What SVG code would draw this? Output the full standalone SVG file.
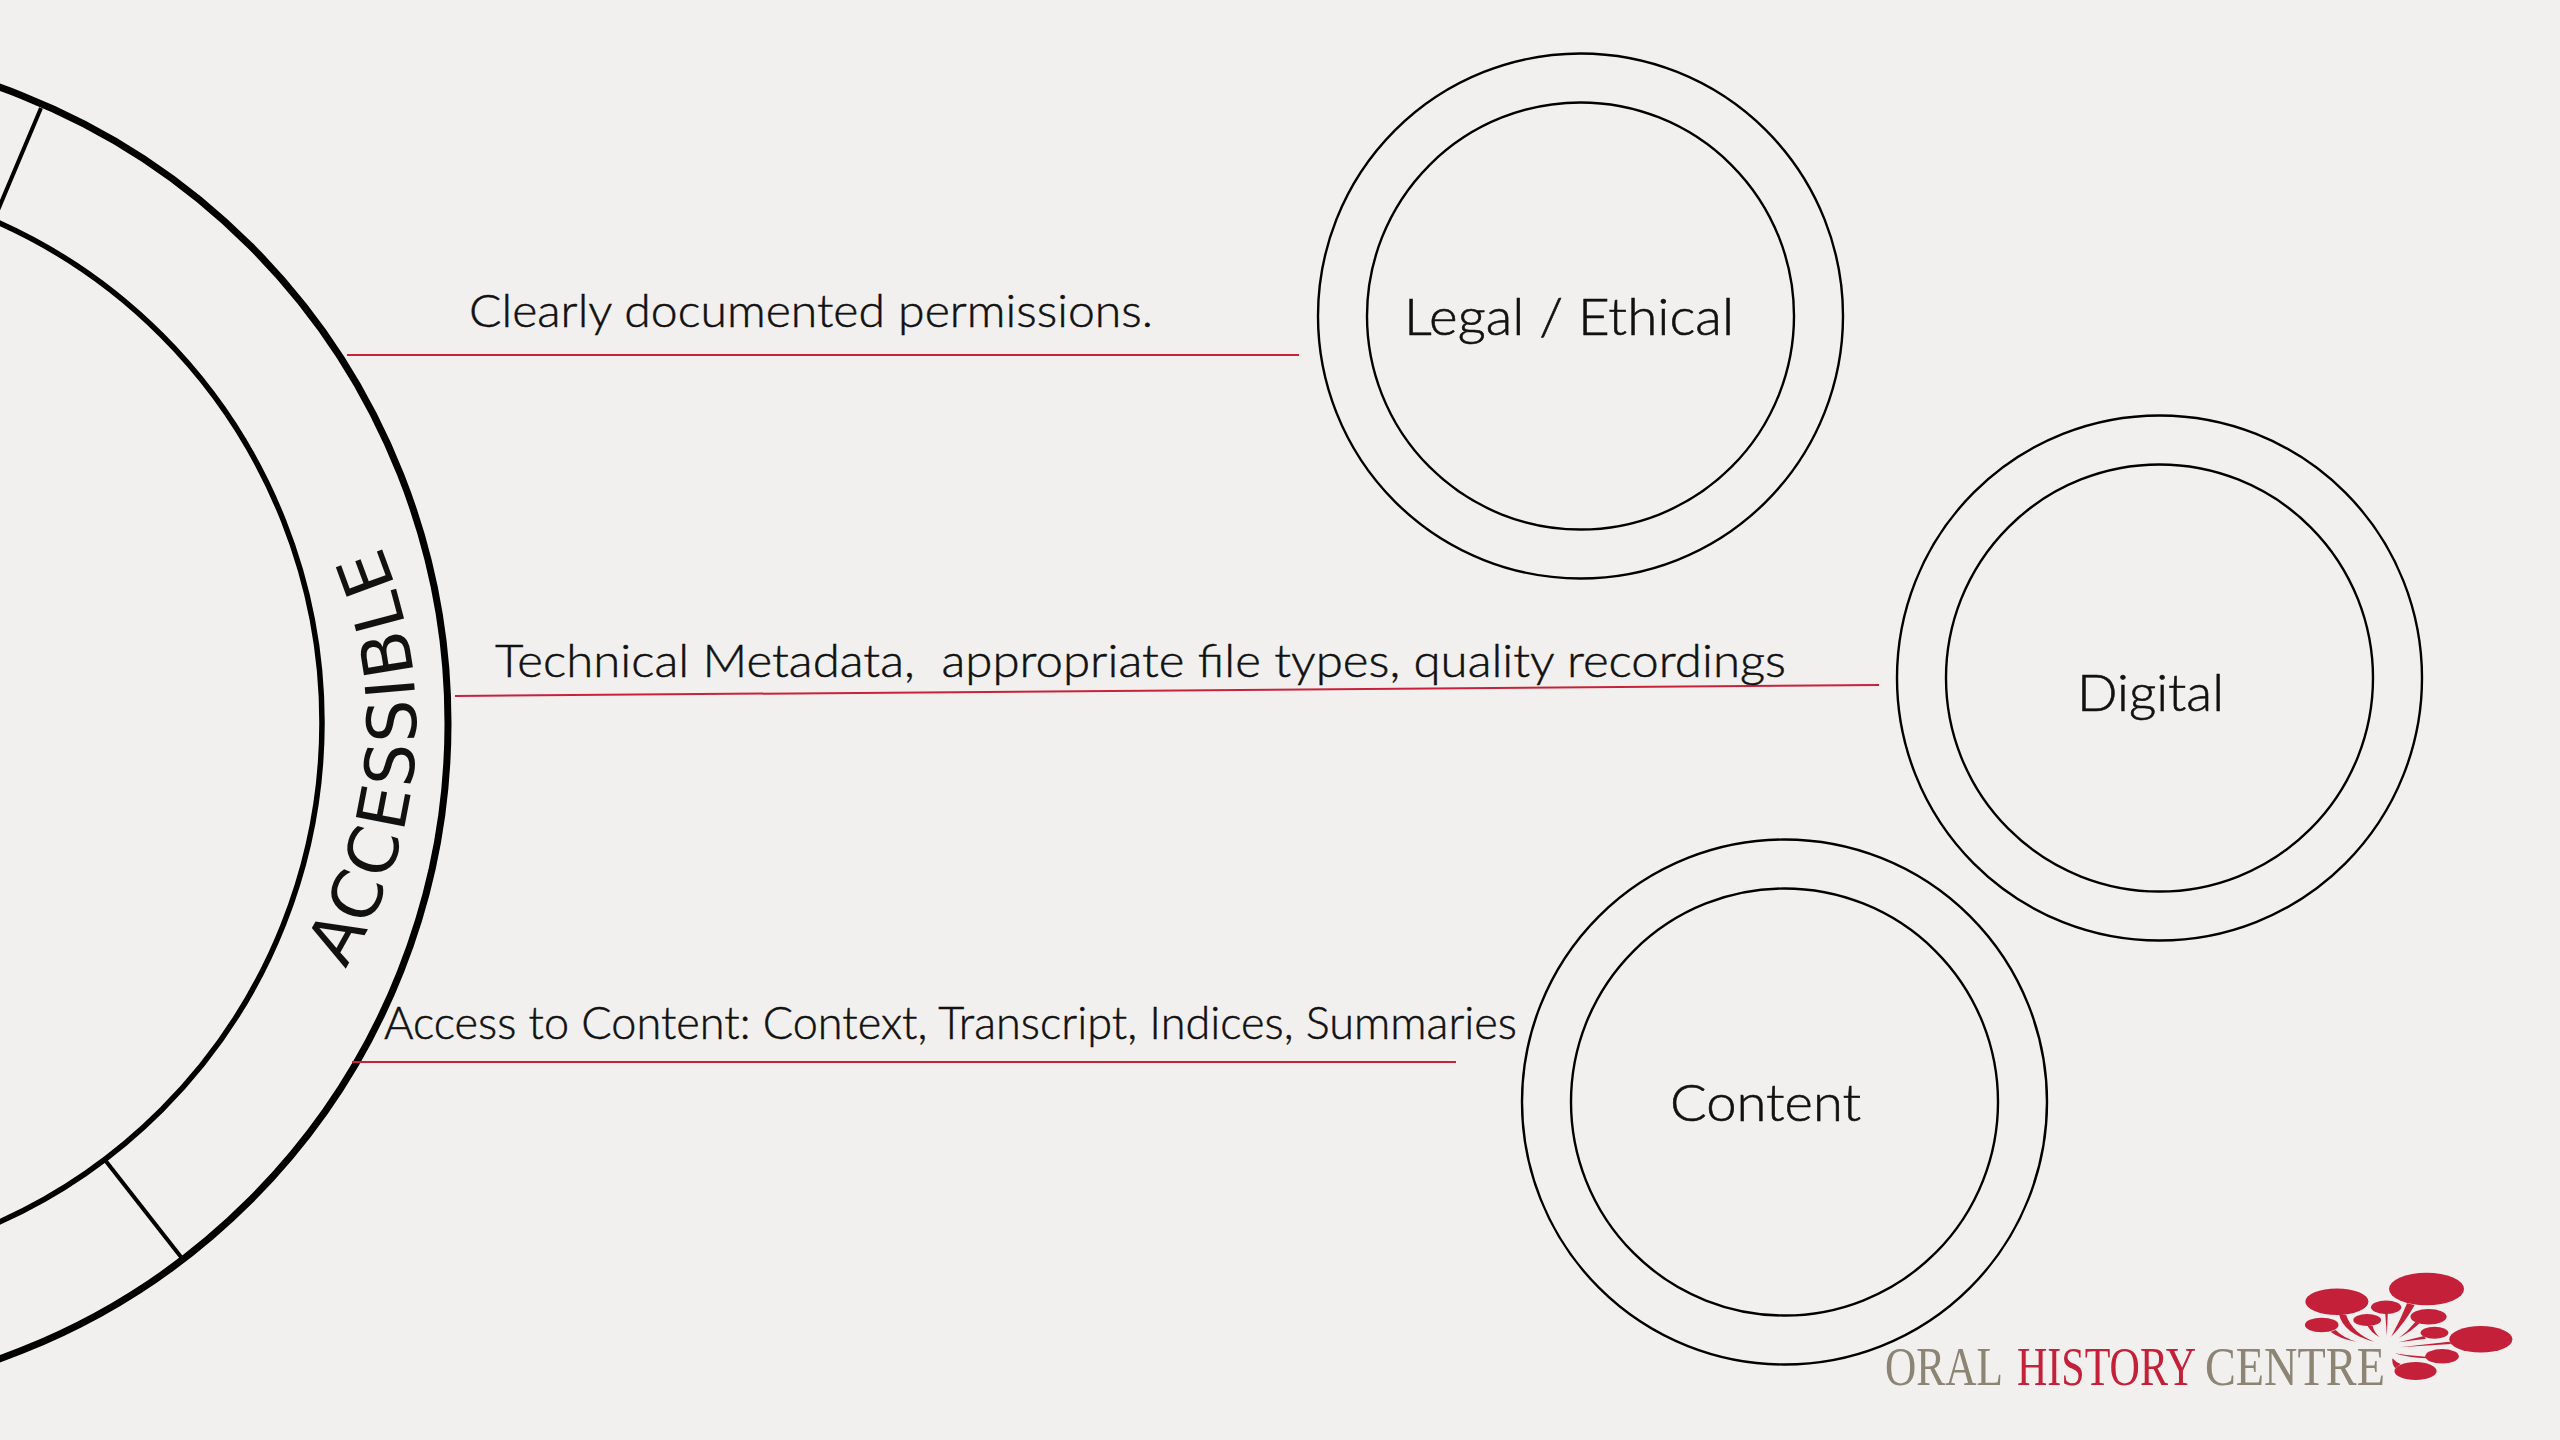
<svg xmlns="http://www.w3.org/2000/svg" width="2560" height="1440" viewBox="0 0 2560 1440">
<style>
.ring{fill:none;stroke:#000;stroke-width:2.4}
.arc{fill:none;stroke:#000}
.lead{stroke:#c8213a;stroke-width:2;fill:none}
.t{font-family:"Lato","Noto Sans","Liberation Sans",sans-serif;font-weight:300;fill:#111;stroke:#111;stroke-width:.5;font-size:46px}
.n{font-family:"Lato","Noto Sans","Liberation Sans",sans-serif;font-weight:300;fill:#111;stroke:#111;stroke-width:.6;font-size:52px}
.logo{font-family:"Liberation Serif",serif;font-size:55px}
.red{fill:#c4203a}
</style>
<rect width="2560" height="1440" fill="#f1f0ee"/>
<g id="wheel">
<circle class="arc" cx="-227" cy="723" r="675" stroke-width="7"/>
<circle class="arc" cx="-226" cy="722.5" r="548" stroke-width="5.5"/>
<line class="arc" x1="41" y1="108" x2="-2" y2="210" stroke-width="4"/>
<line class="arc" x1="105" y1="1160" x2="181" y2="1257" stroke-width="4"/>
<path id="accPath" d="M345,969 A460,460 0 0 0 380,545" fill="none"/>
<text font-family="'DejaVu Sans',sans-serif" font-size="68" letter-spacing="2.7" fill="#111"><textPath href="#accPath">ACCESSIBLE</textPath></text>
</g>
<g id="connectors">
<line class="lead" x1="347" y1="355" x2="1299" y2="355"/>
<line class="lead" x1="455" y1="696" x2="1879" y2="685"/>
<line class="lead" x1="352" y1="1062" x2="1456" y2="1062"/>
</g>
<g id="label-permissions"><text class="t" x="469" y="327" textLength="684" lengthAdjust="spacingAndGlyphs">Clearly documented permissions.</text></g>
<g id="label-technical"><text class="t" x="495" y="677" textLength="1291" lengthAdjust="spacingAndGlyphs" xml:space="preserve">Technical Metadata,  appropriate file types, quality recordings</text></g>
<g id="label-access"><text class="t" x="384" y="1039" textLength="1133" lengthAdjust="spacingAndGlyphs">Access to Content: Context, Transcript, Indices, Summaries</text></g>
<g id="node-legal"><circle class="ring" cx="1580.5" cy="316" r="262.5"/><circle class="ring" cx="1580.5" cy="316" r="213.5"/><text class="n" x="1404" y="335" textLength="330" lengthAdjust="spacingAndGlyphs">Legal / Ethical</text></g>
<g id="node-digital"><circle class="ring" cx="2159.5" cy="678" r="262.5"/><circle class="ring" cx="2159.5" cy="678" r="213.5"/><text class="n" x="2077" y="711" textLength="147" lengthAdjust="spacingAndGlyphs">Digital</text></g>
<g id="node-content"><circle class="ring" cx="1784.5" cy="1102" r="262.5"/><circle class="ring" cx="1784.5" cy="1102" r="213.5"/><text class="n" x="1670" y="1121" textLength="191" lengthAdjust="spacingAndGlyphs">Content</text></g>
<g id="logo">
<text class="logo" transform="translate(1885 1385) scale(.788 1)" fill="#8c8574">ORAL</text>
<text class="logo" transform="translate(2017 1385) scale(.764 1)" fill="#c4203a">HISTORY</text>
<text class="logo" transform="translate(2205 1385) scale(.8415 1)" fill="#8c8574">CENTRE</text>
<g class="red" transform="translate(1860 0) scale(1.2626 1) translate(-1860 0)">
<ellipse cx="2308.7" cy="1289" rx="29.7" ry="16.3"/>
<ellipse cx="2237.7" cy="1301.7" rx="25" ry="13.3"/>
<ellipse cx="2225.7" cy="1325" rx="13.3" ry="7.3"/>
<ellipse cx="2261.7" cy="1320" rx="11" ry="6"/>
<ellipse cx="2276.7" cy="1307.3" rx="12" ry="6.7"/>
<ellipse cx="2310.3" cy="1316.7" rx="14.3" ry="7.7"/>
<ellipse cx="2315" cy="1332.7" rx="11" ry="6"/>
<ellipse cx="2351.7" cy="1339.3" rx="25" ry="13.3"/>
<ellipse cx="2321" cy="1356.3" rx="13.3" ry="7.3"/>
<ellipse cx="2300" cy="1371" rx="16.7" ry="9"/>
<path d="M2293.3,1303.3L2299.3,1305Q2292,1322 2280.7,1336.7Q2288,1320 2293.3,1303.3Z"/>
<path d="M2239.3,1314L2245,1315Q2250,1333 2267.3,1341.7Q2243,1334 2239.3,1314Z"/>
<path d="M2232.7,1331.7L2236.7,1330Q2243,1338 2253.3,1341.7Q2240,1339 2232.7,1331.7Z"/>
<path d="M2261.7,1325L2266,1326Q2267,1332 2271.7,1337.3Q2264,1332 2261.7,1325Z"/>
<path d="M2276,1313.3L2278,1313.3L2277.3,1336Z"/>
<path d="M2300,1321.7L2303.3,1323.3Q2296,1332 2286.7,1338.3Q2294,1331 2300,1321.7Z"/>
<path d="M2306.7,1336L2308.3,1338.7L2286.7,1342.3Z"/>
<path d="M2326.7,1341.7L2328.3,1344L2287.3,1347.3Z"/>
<path d="M2308.3,1356.7L2308.3,1358.3Q2295,1358 2283.3,1353.3Q2295,1356 2308.3,1356.7Z"/>
<path d="M2284,1368.3L2288.3,1364Q2284,1362 2281.7,1358.3Q2281,1364 2284,1368.3Z"/>
</g>
</g>
</svg>
